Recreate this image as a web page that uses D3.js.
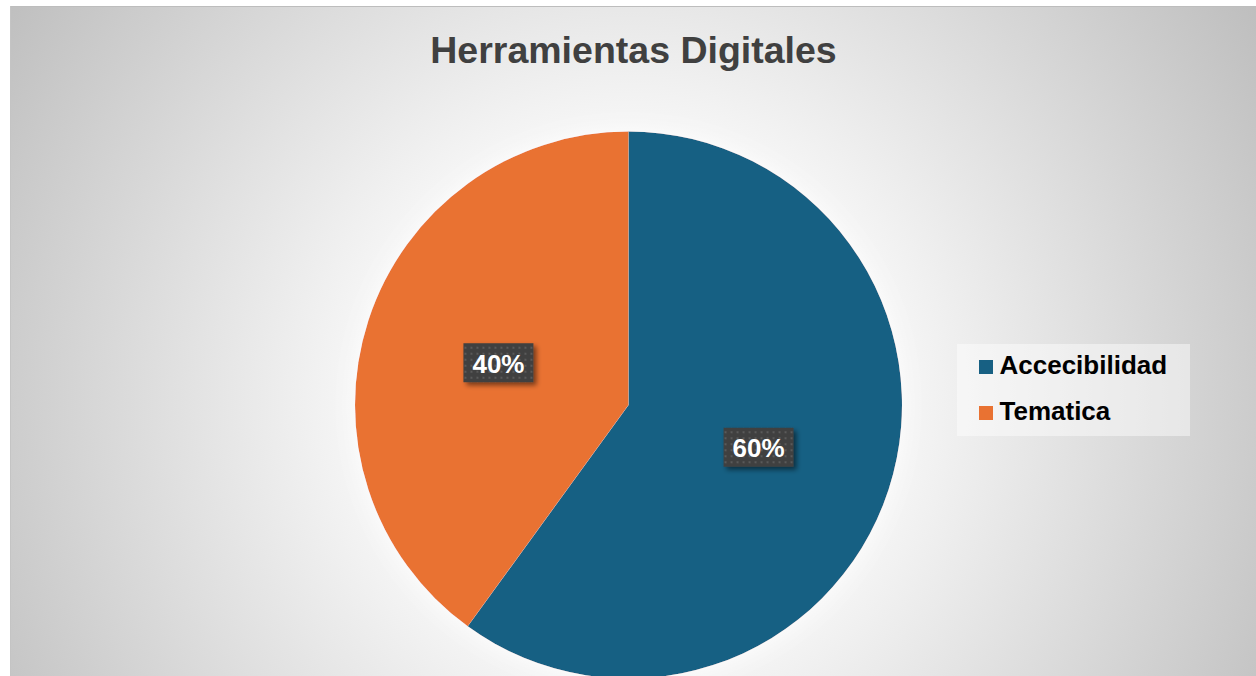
<!DOCTYPE html>
<html><head><meta charset="utf-8">
<script src="https://cdn.jsdelivr.net/npm/d3@7"></script>
<style>html,body{margin:0;padding:0;background:#fff;overflow:hidden}</style>
</head><body><svg id="c" width="1256" height="676"></svg>
<script>
const categories = ["Accecibilidad", "Tematica"];
const values = [60, 40];
const colors = ["#176083", "#E97232"];
const title = "Herramientas Digitales";

const svg = d3.select("#c");
const defs = svg.append("defs");
const rg = defs.append("radialGradient").attr("id","bg").attr("gradientUnits","userSpaceOnUse")
  .attr("cx",628).attr("cy",400).attr("r",760);
rg.append("stop").attr("offset",0).attr("stop-color","#ffffff");
rg.append("stop").attr("offset",0.38).attr("stop-color","#f4f4f4");
rg.append("stop").attr("offset",1).attr("stop-color","#bcbcbc");

const pat = defs.append("pattern").attr("id","dots").attr("patternUnits","userSpaceOnUse")
  .attr("width",6).attr("height",6);
pat.append("rect").attr("width",6).attr("height",6).attr("fill","#404040");
pat.append("rect").attr("x",2).attr("y",2).attr("width",2).attr("height",2).attr("fill","#5a5a5a");

const sh = defs.append("filter").attr("id","sh").attr("x","-30%").attr("y","-30%").attr("width","160%").attr("height","160%");
sh.append("feGaussianBlur").attr("in","SourceAlpha").attr("stdDeviation",2.5).attr("result","b");
sh.append("feOffset").attr("in","b").attr("dx",3).attr("dy",3).attr("result","o");
sh.append("feComponentTransfer").attr("in","o").attr("result","oa").append("feFuncA").attr("type","linear").attr("slope",0.5);
const m = sh.append("feMerge"); m.append("feMergeNode").attr("in","oa"); m.append("feMergeNode").attr("in","SourceGraphic");

const glow = defs.append("filter").attr("id","glow").attr("x","-20%").attr("y","-20%").attr("width","140%").attr("height","140%");
glow.append("feGaussianBlur").attr("in","SourceAlpha").attr("stdDeviation",12).attr("result","b");
glow.append("feFlood").attr("flood-color","#ffffff").attr("result","f");
glow.append("feComposite").attr("in","f").attr("in2","b").attr("operator","in").attr("result","g");
const m2 = glow.append("feMerge"); m2.append("feMergeNode").attr("in","g"); m2.append("feMergeNode").attr("in","SourceGraphic");

svg.append("rect").attr("x",10).attr("y",6).attr("width",1246).attr("height",670).attr("fill","url(#bg)");
svg.append("line").attr("x1",10).attr("x2",1256).attr("y1",6.5).attr("y2",6.5).attr("stroke","#bdbdbd");
svg.append("line").attr("x1",10.5).attr("x2",10.5).attr("y1",6).attr("y2",676).attr("stroke","#c4c4c4");

svg.append("text").attr("x",633.5).attr("y",62.5).attr("text-anchor","middle")
  .attr("font-family","Liberation Sans, Arial, sans-serif").attr("font-weight","bold")
  .attr("font-size",37.5).attr("fill","#404040").text(title);

const cx = 628.5, cy = 405, R = 273.5;
const pie = d3.pie().sort(null).value(d => d)(values);
const arc = d3.arc().innerRadius(0).outerRadius(R);
const g = svg.append("g").attr("transform",`translate(${cx},${cy})`);
g.append("g").attr("filter","url(#glow)").selectAll("path").data(pie).join("path")
  .attr("d",arc).attr("fill",(d,i)=>colors[i]);

const total = d3.sum(values);
const lab = g.selectAll("g.lab").data(pie).join("g").attr("class","lab")
  .attr("transform",d=>`translate(${arc.centroid(d)})`);
lab.append("rect").attr("x",-35).attr("y",-19.5).attr("width",70).attr("height",39)
  .attr("fill","url(#dots)").attr("filter","url(#sh)");
lab.append("text").attr("text-anchor","middle").attr("y",10)
  .attr("font-family","Liberation Sans, Arial, sans-serif").attr("font-weight","bold")
  .attr("font-size",26).attr("fill","#ffffff")
  .text(d=>Math.round(d.data/total*100)+"%");

const lg = svg.append("g");
lg.append("rect").attr("x",957).attr("y",344).attr("width",233).attr("height",92)
  .attr("fill","#ffffff").attr("fill-opacity",0.45);
const items = lg.selectAll("g.it").data(categories).join("g").attr("class","it")
  .attr("transform",(d,i)=>`translate(979,${374+i*46})`);
items.append("rect").attr("x",0).attr("y",-14).attr("width",14).attr("height",14).attr("fill",(d,i)=>colors[i]);
items.append("text").attr("x",20.5).attr("y",0)
  .attr("font-family","Liberation Sans, Arial, sans-serif").attr("font-weight","bold")
  .attr("font-size",26).attr("fill","#000").text(d=>d);
</script></body></html>
